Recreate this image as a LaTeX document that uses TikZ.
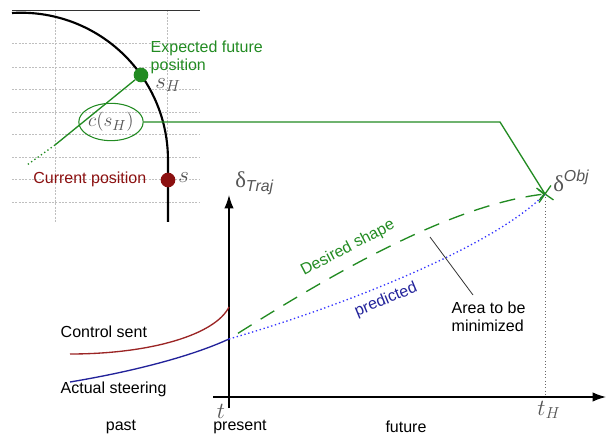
\documentclass[tikz,border=0pt]{standalone}
\usepackage{fontspec}
\setmainfont{Liberation Sans}
\newfontfamily\grkfont{Liberation Serif}
\usepackage{tikz}
\usetikzlibrary{arrows.meta,shapes.geometric,shapes.misc}
\definecolor{posGreen}{HTML}{228B22}
\definecolor{ctrlRed}{HTML}{9B2525}
\definecolor{curRed}{HTML}{8B1010}
\definecolor{steerBlue}{HTML}{22229A}
\definecolor{predBlue}{HTML}{3535FF}
\definecolor{lblGray}{HTML}{555555}
\newcommand{\dlt}{\hbox{\grkfont δ}}

\begin{document}
\begin{tikzpicture}[
    x=0.75pt, y=0.75pt,
    every node/.style={font=\fontsize{12}{13.5}\selectfont},
    grid/.style={draw=black!25, line width=0.5pt, dash pattern=on 1.5pt off 1pt},
    road/.style={draw=black, line width=1.6pt},
    grn/.style={draw=posGreen, line width=1pt},
    axis/.style={draw=black, line width=1pt, -{Latex[length=10pt,width=7pt]}},
    lbl/.style={text=lblGray, inner sep=0pt, font=\fontsize{17}{20}\selectfont},
    dot/.style={circle, inner sep=0pt, minimum size=11pt},
]
  \useasboundingbox (0,0) rectangle (607,-438);
  % map grid (y = -pixel row)
  \foreach \y in {43,67,89,112,134,157,179,202}{ \draw[grid] (12,-\y) -- (200,-\y); }
  \foreach \x in {55,167}{ \draw[grid] (\x,-10) -- (\x,-222); }
  \draw[black!80, line width=0.6pt] (12,-10) -- (200,-10);
  % road edge
  \draw[road] (12,-13) arc[start angle=93.5, end angle=0, radius=147] -- (168,-222);
  % positions on the road
  \node[dot, fill=posGreen] (dotH) at (141,-75) {};
  \node[dot, fill=curRed] (dotS) at (168,-180) {};
  \node[lbl, anchor=west] (sH) at (155,-85) {$s_H$};
  \node[lbl, anchor=west] (sNow) at (178,-178) {$s$};
  \node[text=posGreen, anchor=west, align=left] (expLbl) at (146,-57) {Expected future\\position};
  \node[text=curRed, anchor=east] (curLbl) at (151,-179) {Current position};
  % heading line through s_H
  \coordinate (tail) at (55,-145);
  \coordinate (tailEnd) at (27,-165);
  \draw[grn] (dotH) -- (tail);
  \draw[grn, dotted] (tail) -- (tailEnd);
  % curvature at s_H -> objective
  \node[ellipse, draw=posGreen, line width=0.8pt, minimum width=43pt, minimum height=28pt,
        inner sep=0pt, text=lblGray, font=\fontsize{15}{17}\selectfont] (cs) at (111,-122) {$c\bigl(s_H\bigr)$};
  \node[cross out, draw=posGreen, line width=1pt, minimum size=10pt, inner sep=0pt, rotate=10] (obj) at (545,-194) {};
  \coordinate (bend) at (500,-122);
  \draw[grn] (cs.east) -- (bend) -- (obj.center);
  % axes
  \coordinate (tBot) at (229,-408);
  \coordinate (yTop) at (229,-195);
  \coordinate (xLeft) at (213,-397);
  \coordinate (xRight) at (606,-397);
  \coordinate (hzn) at (545,-397);
  \draw[axis] (tBot) -- (yTop);
  \draw[axis] (xLeft) -- (xRight);
  \draw[black!60, dotted, line width=0.5pt] (obj.center) -- (hzn);
  % past signals
  \coordinate (now) at (229,-339);
  \draw[ctrlRed, line width=1pt] (70,-354) .. controls (150,-354) and (215,-335) .. (229,-307);
  \draw[steerBlue, line width=1pt] (70,-382) .. controls (130,-372) and (190,-357) .. (now);
  % future
  \draw[predBlue, dotted, line width=1pt] (now) .. controls (330,-310) and (490,-250) .. (obj.center);
  \draw[posGreen, line width=1pt, dash pattern=on 12pt off 8pt, dash phase=12pt,
        -{Straight Barb[length=4pt,width=8pt]}] (now) .. controls (330,-275) and (450,-205) .. (obj.center);
  \coordinate (areaTop) at (430,-237);
  \coordinate (areaTip) at (473,-295);
  \draw[black!80, line width=0.6pt] (areaTop) -- (areaTip);
  % labels
  \node[text=posGreen, rotate=27.5] (desLbl) at (348,-248) {Desired shape};
  \node[text=steerBlue, rotate=22.5] (predLbl) at (386,-300) {predicted};
  \node[align=left, anchor=north west] (areaLbl) at (447,-297) {Area to be\\minimized};
  \node[anchor=west] (ctrlLbl) at (56,-332) {Control sent};
  \node[anchor=west] (steerLbl) at (56,-389) {Actual steering};
  \node (pastLbl) at (121,-427) {past};
  \node (presLbl) at (240,-427) {present};
  \node (futLbl) at (406,-427) {future};
  \node[lbl] (tLbl) at (221,-411) {$t$};
  \node[lbl] (tHLbl) at (549,-410) {$t_H$};
  \node[lbl, anchor=west] (dTraj) at (235,-183) {$\dlt_{\mathit{Traj}}$};
  \node[lbl, anchor=west] (dObj) at (553,-181) {$\dlt^{\mathit{Obj}}$};
\end{tikzpicture}
\end{document}
